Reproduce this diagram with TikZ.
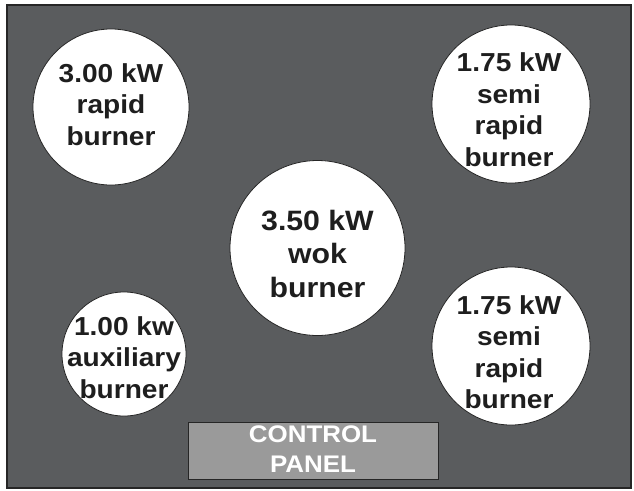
\documentclass[tikz,border=0pt]{standalone}
\usepackage{fontspec}
\setmainfont{Liberation Sans}[FakeStretch=1.08]
\usetikzlibrary{positioning}
\definecolor{hobgray}{HTML}{5A5C5E}
\definecolor{panelgray}{HTML}{9A9A9A}
\definecolor{inkgray}{HTML}{1E1E1E}

\begin{document}
\begin{tikzpicture}[x=1pt, y=-1pt]
  \tikzstyle{every node} = [inner sep = 0pt, outer sep = 0pt];
  \tikzstyle{burner} = [draw=black!85, circle, fill=white, line width=0.8pt];
  \tikzstyle{rating} = [align=center, text=inkgray, font=\bfseries\fontsize{26}{31.5}\selectfont];
  \useasboundingbox (0,0) rectangle (634,490);
  % hob top
  \node (hob) [draw=black!85, fill=hobgray, line width=1.5pt, minimum width=624pt,
    minimum height=483pt, anchor=north west] at (7,5) {};
  % burners
  \node (rapid) [burner, minimum size=156pt] at (111,107) {};
  \node (semitop) [burner, minimum size=158pt] at (511,104) {};
  \node (wok) [burner, minimum size=175pt] at (317.5,248) {};
  \node (aux) [burner, minimum size=124pt] at (124,354) {};
  \node (semibot) [burner, minimum size=158pt] at (511,346) {};
  % labels
  \node (rapidtxt) [rating] at ([yshift=2.5pt]rapid) {3.00 kW\\rapid\\burner};
  \node (semitoptxt) [rating] at ([xshift=-2pt, yshift=-5.5pt]semitop) {1.75 kW\\semi\\rapid\\burner};
  \node (woktxt) [rating, font=\bfseries\fontsize{28}{33.5}\selectfont] at ([yshift=-5.5pt]wok) {3.50 kW\\wok\\burner};
  \node (auxtxt) [rating] at ([yshift=-3.5pt]aux) {1.00 kw\\auxiliary\\burner};
  \node (semibottxt) [rating] at ([xshift=-2pt, yshift=-6pt]semibot) {1.75 kW\\semi\\rapid\\burner};
  % control panel
  \node (panel) [draw=black!85, fill=panelgray, line width=1pt, minimum width=250pt,
    minimum height=57pt] at (313,451) {};
  \node (paneltxt) [align=center, text=white, font=\bfseries\fontsize{24}{30}\selectfont]
    at ([yshift=2pt]panel) {CONTROL\\PANEL};
\end{tikzpicture}
\end{document}
